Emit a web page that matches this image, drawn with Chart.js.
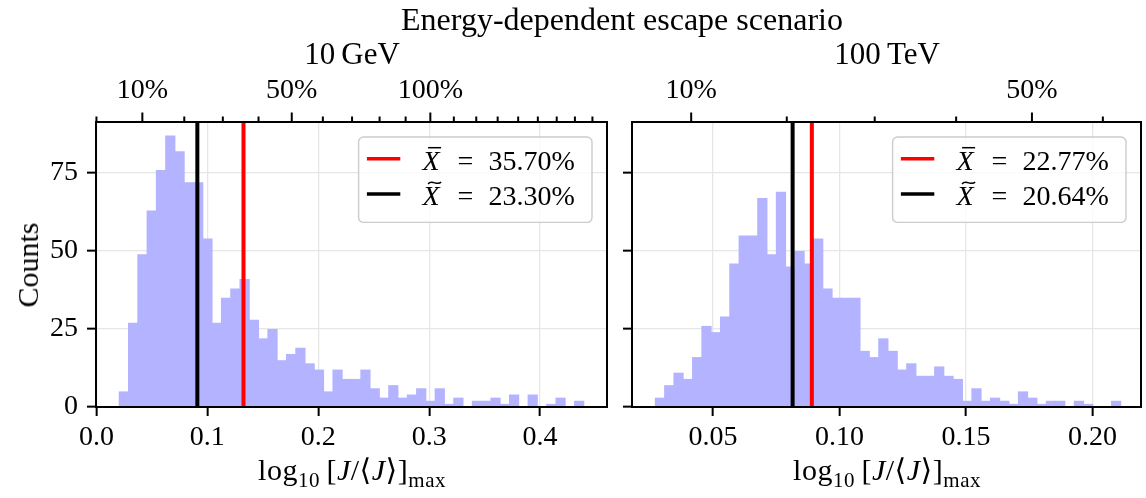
<!DOCTYPE html>
<html>
<head>
<meta charset="utf-8">
<script src="https://cdn.jsdelivr.net/npm/chart.js@4.4.1/dist/chart.umd.min.js"></script>
<style>
  html, body { margin: 0; padding: 0; background: #fff; }
  #fig { position: relative; width: 1146px; height: 498px; overflow: hidden; font-family: "Liberation Serif", "DejaVu Serif", serif; color: #000; }
  canvas { position: absolute; top: 0; }
  .txt { position: absolute; white-space: nowrap; line-height: 1; }
  .ctr { transform: translateX(-50%); }
  .xlab { font-size: 30px; top: 455px; letter-spacing: 0.5px; }
  .xlab sub { font-size: 0.7em; vertical-align: -0.32em; line-height: 0; }
</style>
</head>
<body>
<div id="fig">
  <canvas id="left-chart" width="620" height="498" style="left:0"></canvas>
  <canvas id="right-chart" width="546" height="498" style="left:600px"></canvas>
  <div class="txt ctr" style="left:622px; top:3px; font-size:32px">Energy-dependent escape scenario</div>
  <div class="txt ctr" style="left:352px; top:38px; font-size:31px">10&thinsp;GeV</div>
  <div class="txt ctr" style="left:887px; top:38px; font-size:31px">100&thinsp;TeV</div>
  <div class="txt" style="left:28px; top:265px; font-size:30px; transform: translate(-50%, -50%) rotate(-90deg)">Counts</div>
  <div class="txt ctr xlab" style="left:352px">log<sub>10</sub>&thinsp;[<i>J</i>/⟨<i>J</i>⟩]<sub>max</sub></div>
  <div class="txt ctr xlab" style="left:887px">log<sub>10</sub>&thinsp;[<i>J</i>/⟨<i>J</i>⟩]<sub>max</sub></div>
</div>
<script>
// histogram counts, 50 bins per panel
const leftCounts = [5, 27, 49, 63, 76, 87, 82, 72, 72, 54, 27, 35, 38, 41, 28, 22, 25, 15, 17, 19,
  14, 12, 5, 12, 9, 9, 12, 6, 3, 7, 3, 4, 6, 2, 6, 1, 3, 0, 2, 2, 3, 1, 4, 0, 4, 0, 1, 3, 0, 2];
const rightCounts = [3, 7, 11, 9, 16, 26, 24, 29, 46, 55, 55, 67, 49, 69, 45, 50, 46, 54, 38, 35,
  35, 35, 18, 16, 22, 18, 12, 14, 10, 10, 13, 10, 9, 2, 6, 2, 3, 2, 1, 5, 3, 1, 2, 2, 0, 2, 1, 0, 0, 2];

// first and last bin edge
const leftBins = [0.0205, 0.4394];
const rightBins = [0.0272, 0.2112];

// axis limits
const leftRange = [-0.0004, 0.4603];
const rightRange = [0.018, 0.2192];
const yMax = 91.35;

const leftXTicks = [0, 0.1, 0.2, 0.3, 0.4];
const leftXLabels = ["0.0", "0.1", "0.2", "0.3", "0.4"];
const rightXTicks = [0.05, 0.1, 0.15, 0.2];
const rightXLabels = ["0.05", "0.10", "0.15", "0.20"];
const yTicks = [0, 25, 50, 75];
const yLabels = ["0", "25", "50", "75"];

// top axis in percent
const leftTopMajor = [10, 50, 100];
const leftTopMinor = [0, 20, 30, 40, 60, 70, 80, 90, 110, 120, 130, 140, 150, 160, 170, 180];
const rightTopMajor = [10, 50];
const rightTopMinor = [20, 30, 40, 60];

// [mean, median] in percent
const leftStats = [35.70, 23.30];
const rightStats = [22.77, 20.64];

const FONT = "Liberation Serif";
const pctToX = (p) => Math.log10(1 + p / 100);

const framePlugin = {
  id: "frame",
  afterDatasetsDraw(chart, args, opts) {
    const { ctx, chartArea: a } = chart;
    const top = chart.scales.xTop;
    ctx.save();
    ctx.strokeStyle = "#000";
    ctx.lineWidth = 2;
    const tick = (p, len) => {
      const px = top.getPixelForValue(pctToX(p));
      ctx.beginPath();
      ctx.moveTo(px, a.top);
      ctx.lineTo(px, a.top - len);
      ctx.stroke();
    };
    opts.major.forEach((p) => tick(p, 9.5));
    opts.minor.forEach((p) => tick(p, 5.5));
    ctx.strokeRect(a.left, a.top, a.right - a.left, a.bottom - a.top);

    // legend box
    const w = 233.4, h = 85.4;
    const x0 = a.right - 15 - w, y0 = a.top + 15;
    ctx.beginPath();
    ctx.roundRect(x0, y0, w, h, 5);
    ctx.fillStyle = "rgba(255,255,255,0.8)";
    ctx.fill();
    ctx.strokeStyle = "#cccccc";
    ctx.lineWidth = 1.4;
    ctx.stroke();

    const rows = [
      { color: "#ff0000", accent: "bar", value: opts.stats[0] },
      { color: "#000000", accent: "tilde", value: opts.stats[1] },
    ];
    rows.forEach((row, i) => {
      const ly = y0 + 21.7 + i * 35.3;
      const base = y0 + 32.7 + i * 35.3;
      ctx.strokeStyle = row.color;
      ctx.lineWidth = 3.5;
      ctx.beginPath();
      ctx.moveTo(x0 + 8.3, ly);
      ctx.lineTo(x0 + 41.7, ly);
      ctx.stroke();

      ctx.fillStyle = "#000";
      ctx.textBaseline = "alphabetic";
      ctx.textAlign = "left";
      ctx.font = `italic 28px "${FONT}"`;
      ctx.fillText("X", x0 + 64, base);
      const ax = x0 + 64 + 12;
      ctx.strokeStyle = "#000";
      ctx.lineWidth = 1.5;
      ctx.beginPath();
      if (row.accent === "bar") {
        ctx.moveTo(ax - 6.5, base - 22);
        ctx.lineTo(ax + 6.5, base - 22);
      } else {
        ctx.moveTo(ax - 6.5, base - 21);
        ctx.bezierCurveTo(ax - 3, base - 26, ax + 3, base - 18.5, ax + 6.5, base - 23);
      }
      ctx.stroke();
      ctx.font = `28px "${FONT}"`;
      ctx.fillText("=", x0 + 99, base);
      ctx.fillText(`${row.value.toFixed(2)}%`, x0 + 130, base);
    });
    ctx.restore();
  },
};

function buildChart(id, cfg) {
  const binW = (cfg.bins[1] - cfg.bins[0]) / cfg.counts.length;
  const bars = cfg.counts.map((c, i) => ({ x: cfg.bins[0] + (i + 0.5) * binW, y: c }));
  const meanX = pctToX(cfg.stats[0]);
  const medianX = pctToX(cfg.stats[1]);
  const topTicks = [...cfg.topMajor, ...cfg.topMinor].sort((a, b) => a - b);
  const tickFont = { family: FONT, size: 28 };

  return new Chart(document.getElementById(id), {
    type: "bar",
    data: {
      datasets: [
        {
          type: "bar",
          data: bars,
          backgroundColor: "#b3b3ff",
          borderWidth: 0,
          barPercentage: 1.1,
          categoryPercentage: 1,
          order: 3,
        },
        {
          type: "line",
          data: [{ x: medianX, y: 0 }, { x: medianX, y: yMax }],
          borderColor: "#000000",
          borderWidth: 4,
          pointRadius: 0,
          order: 2,
        },
        {
          type: "line",
          data: [{ x: meanX, y: 0 }, { x: meanX, y: yMax }],
          borderColor: "#ff0000",
          borderWidth: 4,
          pointRadius: 0,
          order: 1,
        },
      ],
    },
    options: {
      responsive: false,
      animation: false,
      devicePixelRatio: 1,
      layout: { padding: { left: 0, right: cfg.padRight, top: 0, bottom: 0 } },
      plugins: {
        legend: { display: false },
        tooltip: { enabled: false },
        frame: { major: cfg.topMajor, minor: cfg.topMinor, stats: cfg.stats },
      },
      scales: {
        x: {
          type: "linear",
          position: "bottom",
          offset: false,
          min: cfg.range[0],
          max: cfg.range[1],
          afterBuildTicks: (s) => { s.ticks = cfg.xTicks.map((v) => ({ value: v })); },
          afterFit: (s) => { s.height = 91; },
          ticks: {
            autoSkip: false, maxRotation: 0, minRotation: 0, padding: 5,
            color: "#000", font: tickFont,
            callback: (v, i) => cfg.xLabels[i],
          },
          grid: { offset: false, color: "#e6e6e6", lineWidth: 1.3, tickLength: 9, tickColor: "#000", tickWidth: 2 },
          border: { display: false },
        },
        xTop: {
          type: "linear",
          position: "top",
          offset: false,
          min: cfg.range[0],
          max: cfg.range[1],
          afterBuildTicks: (s) => { s.ticks = topTicks.map((p) => ({ value: pctToX(p) })); },
          afterFit: (s) => { s.height = 122; },
          ticks: {
            autoSkip: false, maxRotation: 0, minRotation: 0, padding: 15,
            color: "#000", font: tickFont,
            callback: (v, i) => (cfg.topMajor.includes(topTicks[i]) ? `${topTicks[i]}%` : ""),
          },
          grid: { display: false, drawTicks: false, offset: false },
          border: { display: false },
        },
        y: {
          type: "linear",
          min: 0,
          max: yMax,
          afterBuildTicks: (s) => { s.ticks = yTicks.map((v) => ({ value: v })); },
          afterFit: (s) => { s.width = cfg.yWidth; },
          ticks: {
            display: cfg.showYLabels, padding: 9,
            color: "#000", font: tickFont,
            callback: (v, i) => yLabels[i],
          },
          grid: { color: "#e6e6e6", lineWidth: 1.3, tickLength: 9, tickColor: "#000", tickWidth: 2 },
          border: { display: false },
        },
      },
    },
    plugins: [framePlugin],
  });
}

buildChart("left-chart", {
  counts: leftCounts, bins: leftBins, range: leftRange,
  xTicks: leftXTicks, xLabels: leftXLabels,
  topMajor: leftTopMajor, topMinor: leftTopMinor,
  stats: leftStats, yWidth: 96, padRight: 13, showYLabels: true,
});

buildChart("right-chart", {
  counts: rightCounts, bins: rightBins, range: rightRange,
  xTicks: rightXTicks, xLabels: rightXLabels,
  topMajor: rightTopMajor, topMinor: rightTopMinor,
  stats: rightStats, yWidth: 32, padRight: 5, showYLabels: false,
});
</script>
</body>
</html>
